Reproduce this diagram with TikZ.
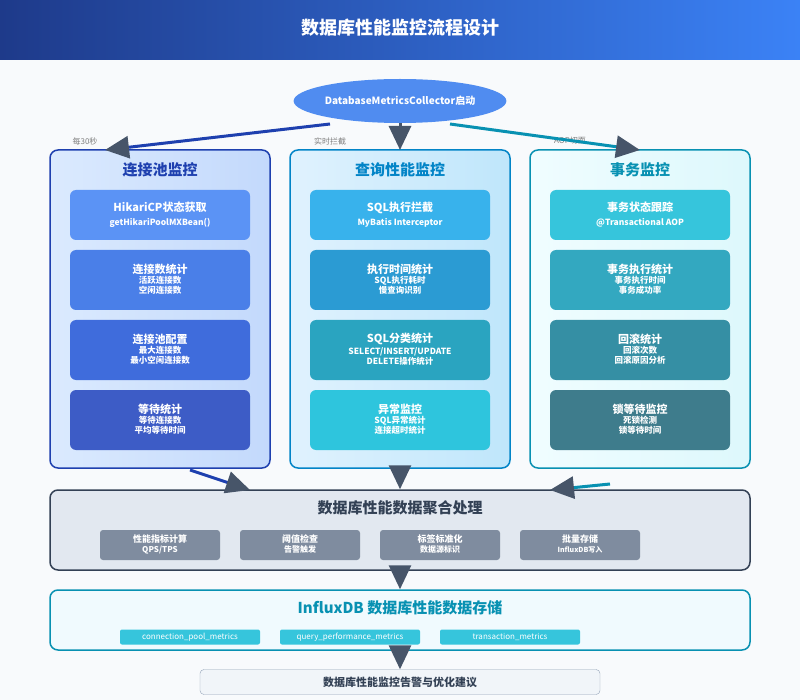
\documentclass[tikz,border=0pt]{standalone}
\usepackage{fontspec}
\setmainfont{Noto Sans CJK SC}
\usetikzlibrary{arrows.meta,shapes.geometric}
\definecolor{bg}{HTML}{F8FAFC}
\definecolor{hdA}{HTML}{1E3A8A}
\definecolor{hdB}{HTML}{3B82F6}
\definecolor{tipc}{HTML}{475569}
\definecolor{cA}{HTML}{1E40AF}
\definecolor{cB}{HTML}{0284C7}
\definecolor{cC}{HTML}{0891B2}
\definecolor{dark}{HTML}{334155}
\definecolor{fA1}{HTML}{DBEAFE}\definecolor{fA2}{HTML}{C3D9FC}
\definecolor{fB1}{HTML}{E0F2FE}\definecolor{fB2}{HTML}{BFE6FB}
\definecolor{fC1}{HTML}{F0FDFF}\definecolor{fC2}{HTML}{DDF8FC}
\newcommand{\lines}[2]{{\fontsize{#1}{#1}\selectfont\begin{tabular}{@{}c@{}}#2\end{tabular}}}
\begin{document}
\begin{tikzpicture}[x=1pt,y=-1pt,
  col/.style={draw, line width=1.5pt, rounded corners=8pt},
  item/.style={rounded corners=6pt, text=white, align=center, minimum width=180pt, font=\bfseries\fontsize{11}{13}\selectfont},
  sub/.style={rounded corners=3pt, fill={rgb,255:red,127;green,140;blue,159}, text=white, align=center, minimum width=120pt, minimum height=30pt, inner sep=1pt, font=\bfseries\fontsize{9}{10}\selectfont},
  tag/.style={rounded corners=2pt, fill={rgb,255:red,54;green,197;blue,220}, text=white, minimum width=140pt, minimum height=15pt, inner sep=0pt, font=\fontsize{8}{8}\selectfont},
  ctitle/.style={font=\bfseries\fontsize{15}{15}\selectfont},
  note/.style={text=gray, font=\fontsize{8}{8}\selectfont},
  arr/.style={line width=3pt, -{Triangle[length=24pt,width=22pt,fill=tipc,color=tipc]}}
]
\useasboundingbox (0,0) rectangle (800,700);
\fill[bg] (0,0) rectangle (800,700);
\shade[left color=hdA, right color=hdB] (0,0) rectangle (800,60);
\node[text=white, font=\bfseries\fontsize{18}{18}\selectfont] (title) at (400,28) {数据库性能监控流程设计};

\node[ellipse, fill={rgb,255:red,80;green,140;blue,240}, minimum width=200pt, minimum height=44pt, inner sep=0pt, text=white, font=\bfseries\fontsize{10}{10}\selectfont] (start) at (400,101) {DatabaseMetricsCollector启动};

% columns
\shade[col, draw=cA, left color=fA1, right color=fA2] (50,150) rectangle (270,468);
\shade[col, draw=cB, left color=fB1, right color=fB2] (290,150) rectangle (510,468);
\shade[col, draw=cC, left color=fC1, right color=fC2] (530,150) rectangle (750,468);
\coordinate (colA) at (105,150); \coordinate (colB) at (400,150); \coordinate (colC) at (640,150);
\coordinate (botA) at (190,470); \coordinate (botB) at (400,468); \coordinate (botC) at (610,484);

\node[ctitle, text=cA] (tA) at (160,170) {连接池监控};
\node[ctitle, text=cB] (tB) at (400,170) {查询性能监控};
\node[ctitle, text=cC] (tC) at (640,170) {事务监控};

\node[note] (nA) at (85,141) {每30秒};
\node[note] (nB) at (330,141) {实时拦截};
\node[note] (nC) at (570,141) {AOP切面};

\newcommand{\itm}[6]{\node[item, fill={#2}, minimum height=#3pt] (#6) at (#1) {#4\\[1pt]\lines{8.5}{#5}};}
\itm{160,215}{rgb,255:red,91;green,147;blue,245}{50}{HikariCP状态获取}{getHikariPoolMXBean()}{a1}
\itm{160,280}{rgb,255:red,74;green,127;blue,232}{60}{连接数统计}{活跃连接数\\空闲连接数}{a2}
\itm{160,350}{rgb,255:red,63;green,108;blue,220}{60}{连接池配置}{最大连接数\\最小空闲连接数}{a3}
\itm{160,420}{rgb,255:red,61;green,92;blue,198}{60}{等待统计}{等待连接数\\平均等待时间}{a4}
\itm{400,215}{rgb,255:red,56;green,178;blue,236}{50}{SQL执行拦截}{MyBatis Interceptor}{b1}
\itm{400,280}{rgb,255:red,43;green,155;blue,211}{60}{执行时间统计}{SQL执行耗时\\慢查询识别}{b2}
\itm{400,350}{rgb,255:red,42;green,164;blue,192}{60}{SQL分类统计}{SELECT/INSERT/UPDATE\\DELETE操作统计}{b3}
\itm{400,420}{rgb,255:red,46;green,197;blue,221}{60}{异常监控}{SQL异常统计\\连接超时统计}{b4}
\itm{640,215}{rgb,255:red,54;green,197;blue,220}{50}{事务状态跟踪}{@Transactional AOP}{c1}
\itm{640,280}{rgb,255:red,51;green,168;blue,192}{60}{事务执行统计}{事务执行时间\\事务成功率}{c2}
\itm{640,350}{rgb,255:red,53;green,143;blue,164}{60}{回滚统计}{回滚次数\\回滚原因分析}{c3}
\itm{640,420}{rgb,255:red,62;green,124;blue,140}{60}{锁等待监控}{死锁检测\\锁等待时间}{c4}

% aggregation
\node[draw=dark, line width=1.5pt, fill={rgb,255:red,226;green,232;blue,240}, rounded corners=8pt, minimum width=700pt, minimum height=80pt] (agg) at (400,530) {};
\node[ctitle, text=dark] (aggt) at (400,508) {数据库性能数据聚合处理};
\node[sub] (s1) at (160,545) {性能指标计算\\\lines{8}{QPS/TPS}};
\node[sub] (s2) at (300,545) {阈值检查\\\lines{8}{告警触发}};
\node[sub] (s3) at (440,545) {标签标准化\\\lines{8}{数据源标识}};
\node[sub] (s4) at (580,545) {批量存储\\\lines{7}{InfluxDB写入}};

% influx
\node[draw=cC, line width=1.5pt, fill=cyan!6, rounded corners=8pt, minimum width=700pt, minimum height=60pt] (inf) at (400,620) {};
\node[ctitle, text=cC] (inft) at (400,608) {InfluxDB 数据库性能数据存储};
\node[tag] (g1) at (190,637) {connection\_pool\_metrics};
\node[tag] (g2) at (350,637) {query\_performance\_metrics};
\node[tag] (g3) at (510,637) {transaction\_metrics};

% final
\node[draw={rgb,255:red,148;green,163;blue,184}, fill={rgb,255:red,241;green,245;blue,249}, rounded corners=4pt, minimum width=400pt, minimum height=25pt, text=dark, font=\bfseries\fontsize{11}{11}\selectfont] (fin) at (400,682) {数据库性能监控告警与优化建议};

% connectors
\coordinate (sA) at (330,124); \coordinate (sC) at (450,124);
\draw[arr, color=cA] (sA) -- (colA);
\draw[arr, color=tipc] (start.south) -- (colB);
\draw[arr, color=cC] (sC) -- (colC);
\coordinate (aA) at (250,490); \coordinate (aC) at (550,490);
\draw[arr, color=cA] (botA) -- (aA);
\draw[arr, color=tipc] (botB) -- (agg.north);
\draw[arr, color=cC] (botC) -- (aC);
\draw[arr, color=tipc] (agg.south) -- (inf.north);
\draw[arr, color=tipc] (inf.south) -- (fin.north);
\end{tikzpicture}
\end{document}
